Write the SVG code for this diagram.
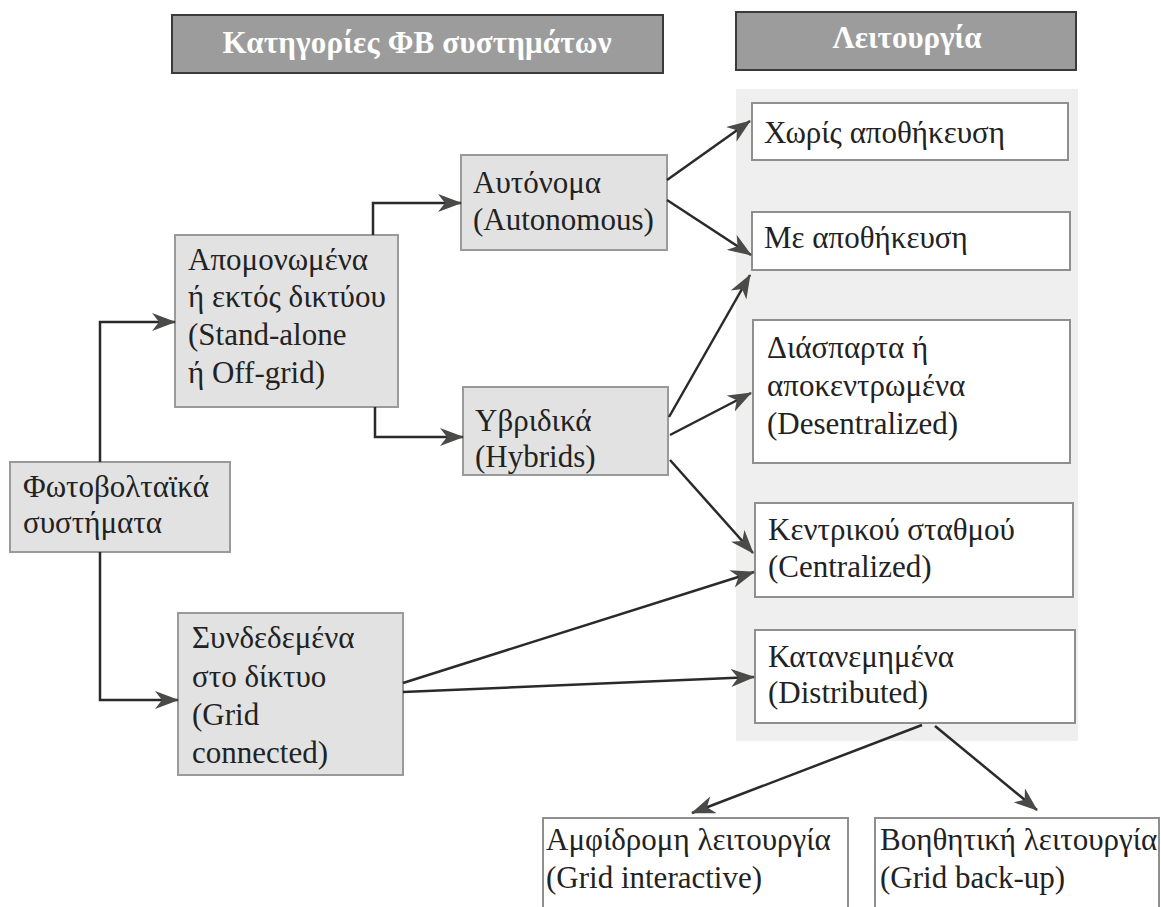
<svg xmlns="http://www.w3.org/2000/svg" width="1161" height="907" viewBox="0 0 1161 907">
<style>
  .hdr { fill:#9c9c9c; stroke:#3a3a3a; stroke-width:2; }
  .hdrt { font-family:"Liberation Serif","DejaVu Serif",serif; font-size:31px; font-weight:bold; fill:#ffffff; }
  .gbox { fill:#e2e2e2; stroke:#9a9a9a; stroke-width:2; }
  .wbox { fill:#ffffff; stroke:#8f8f8f; stroke-width:2; }
  .t { font-family:"Liberation Serif","DejaVu Serif",serif; font-size:31px; fill:#222222; }
  .c { fill:none; stroke:#2a2a2a; stroke-width:2.5; marker-end:url(#ah); }
</style>
<defs>
  <marker id="ah" viewBox="0 0 24 18" markerWidth="24" markerHeight="18" refX="23" refY="9" orient="auto" markerUnits="userSpaceOnUse">
    <path d="M0,0 L24,9 L0,18 L7,9 z" fill="#4a4a48"/>
  </marker>
</defs>
<rect x="0" y="0" width="1161" height="907" fill="#ffffff"/>

<g id="header-categories">
  <rect class="hdr" x="172" y="15" width="491" height="58"/>
  <text class="hdrt" x="417" y="53" text-anchor="middle" textLength="389">Κατηγορίες ΦΒ συστημάτων</text>
</g>
<g id="header-function">
  <rect class="hdr" x="736" y="12" width="340" height="58"/>
  <text class="hdrt" x="907" y="48" text-anchor="middle" textLength="149">Λειτουργία</text>
</g>

<rect id="right-panel" x="736" y="89" width="342" height="652" fill="#efefef"/>

<g id="pv-systems">
  <rect class="gbox" x="10" y="462" width="220" height="90"/>
  <text class="t" x="23" y="497">Φωτοβολταϊκά</text>
  <text class="t" x="23" y="533">συστήματα</text>
</g>
<g id="stand-alone">
  <rect class="gbox" x="175" y="235" width="223" height="172"/>
  <text class="t" x="188" y="270">Απομονωμένα</text>
  <text class="t" x="188" y="307">ή εκτός δικτύου</text>
  <text class="t" x="188" y="345">(Stand-alone</text>
  <text class="t" x="188" y="383">ή Off-grid)</text>
</g>
<g id="grid-connected">
  <rect class="gbox" x="178" y="613" width="225" height="162"/>
  <text class="t" x="192" y="648">Συνδεδεμένα</text>
  <text class="t" x="192" y="687">στο δίκτυο</text>
  <text class="t" x="192" y="725">(Grid</text>
  <text class="t" x="192" y="763">connected)</text>
</g>
<g id="autonomous">
  <rect class="gbox" x="461" y="155" width="206" height="95"/>
  <text class="t" x="473" y="193">Αυτόνομα</text>
  <text class="t" x="473" y="230">(Autonomous)</text>
</g>
<g id="hybrids">
  <rect class="gbox" x="463" y="387" width="205" height="88"/>
  <text class="t" x="475" y="431">Υβριδικά</text>
  <text class="t" x="475" y="467">(Hybrids)</text>
</g>

<g id="no-storage">
  <rect class="wbox" x="752" y="103" width="316" height="57"/>
  <text class="t" x="764" y="143">Χωρίς αποθήκευση</text>
</g>
<g id="with-storage">
  <rect class="wbox" x="752" y="212" width="318" height="58"/>
  <text class="t" x="764" y="248">Με αποθήκευση</text>
</g>
<g id="decentralized">
  <rect class="wbox" x="753" y="320" width="317" height="143"/>
  <text class="t" x="767" y="358">Διάσπαρτα ή</text>
  <text class="t" x="767" y="396">αποκεντρωμένα</text>
  <text class="t" x="767" y="434">(Desentralized)</text>
</g>
<g id="centralized">
  <rect class="wbox" x="755" y="503" width="318" height="94"/>
  <text class="t" x="768" y="540">Κεντρικού σταθμού</text>
  <text class="t" x="768" y="577">(Centralized)</text>
</g>
<g id="distributed">
  <rect class="wbox" x="755" y="630" width="320" height="93"/>
  <text class="t" x="768" y="667">Κατανεμημένα</text>
  <text class="t" x="768" y="703">(Distributed)</text>
</g>
<g id="grid-interactive">
  <rect class="wbox" x="543" y="818" width="305" height="100"/>
  <text class="t" x="546" y="850">Αμφίδρομη λειτουργία</text>
  <text class="t" x="546" y="888">(Grid interactive)</text>
</g>
<g id="grid-backup">
  <rect class="wbox" x="875" y="818" width="284" height="100"/>
  <text class="t" x="880" y="850">Βοηθητική λειτουργία</text>
  <text class="t" x="880" y="888">(Grid back-up)</text>
</g>

<g id="connectors">
  <path class="c" d="M100,462 V322 H175"/>
  <path class="c" d="M100,552 V700 H178"/>
  <path class="c" d="M373,235 V203 H461"/>
  <path class="c" d="M375,407 V437 H463"/>
  <path class="c" d="M667,180 L750,121"/>
  <path class="c" d="M667,200 L751,255"/>
  <path class="c" d="M669,417 L750,275"/>
  <path class="c" d="M670,435 L751,393"/>
  <path class="c" d="M670,460 L753,553"/>
  <path class="c" d="M403,683 L754,572"/>
  <path class="c" d="M403,692 L754,677"/>
  <path class="c" d="M922,725 L692,813"/>
  <path class="c" d="M935,726 L1037,810"/>
</g>
</svg>
